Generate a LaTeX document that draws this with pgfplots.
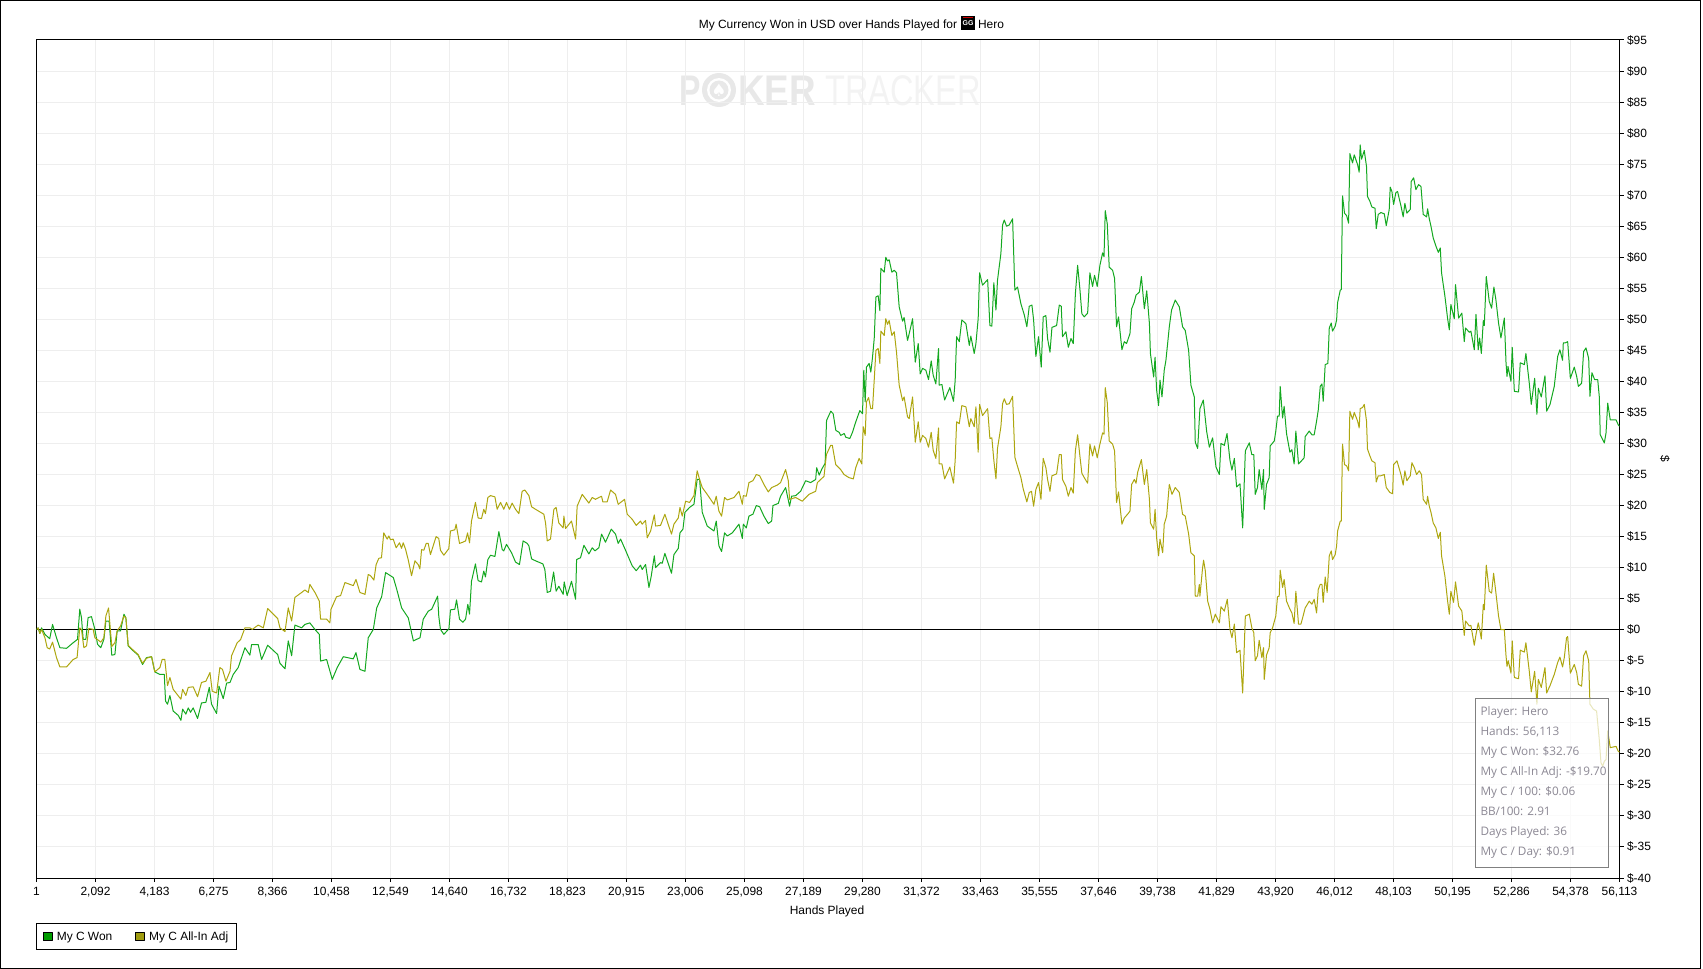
\documentclass[border=0pt]{standalone}
\usepackage{fontspec}
\usepackage{graphicx}
\usepackage{pgfplots}
\pgfplotsset{compat=1.18}
\setmainfont{Liberation Sans}
\newfontfamily\tipfont{Open Sans}
\newfontfamily\symfont{DejaVu Sans}
\definecolor{cgreen}{HTML}{14A820}
\definecolor{cyellow}{HTML}{ADA60F}
\definecolor{lgreen}{HTML}{009C00}
\definecolor{lyellow}{HTML}{A09C10}
\definecolor{cgrid}{HTML}{EEEEEE}
\definecolor{wm}{HTML}{E8E8E8}
\definecolor{wmb}{HTML}{F3F3F3}
\definecolor{tip}{HTML}{8C8894}
\pgfplotstableread{
h v
1 0
60 0.3
120 -0.6
180 0.3
300 -0.75
470 -1.45
570 0.85
710 -1.3
830 -2.9
1065 -3.0
1300 -2.1
1455 -1.55
1535 3.3
1595 1.95
1655 -1.55
1750 -1.55
1830 1.95
1950 2.1
2070 0.05
2165 -2.35
2280 -2.9
2390 -1.55
2460 1.4
2575 1.4
2670 -4.1
2780 -4.0
2860 -0.2
2980 -0.2
3100 2.5
3170 1.9
3250 -2.6
3430 -3.4
3605 -4.1
3760 -5.6
3900 -4.5
4080 -4.35
4195 -6.8
4375 -7.2
4530 -7.2
4575 -11.5
4645 -12.0
4730 -10.6
4845 -13.1
5025 -13.8
5120 -14.6
5180 -12.8
5295 -13.6
5380 -12.6
5460 -13.3
5555 -12.6
5710 -14.3
5850 -11.8
6005 -11.7
6125 -9.3
6205 -12.0
6385 -13.5
6470 -9.1
6620 -11.1
6740 -8.6
6860 -8.5
6975 -7.2
7150 -6.1
7390 -2.9
7565 -4.1
7625 -2.4
7860 -2.4
7980 -4.8
8195 -2.5
8550 -4.0
8630 -5.4
8810 -6.3
8925 -1.8
9045 -4.2
9160 0.75
9400 0.3
9515 0.85
9690 1.1
9870 0.05
10025 -0.75
10070 -5.05
10285 -4.8
10485 -8.0
10660 -6.1
10875 -4.35
11230 -4.7
11325 -3.7
11465 -6.4
11645 -6.7
11760 -1.3
11940 0.05
12060 3.5
12235 5.3
12375 9.2
12650 8.4
12770 6.5
12945 3.5
13180 1.9
13360 -1.8
13595 -1.3
13710 1.7
13890 3.0
14010 3.3
14220 5.4
14260 2.2
14320 0.05
14440 -0.75
14620 0.15
14675 3.2
14830 3.3
14890 4.8
14995 1.7
15115 1.2
15210 1.7
15290 4.1
15350 2.5
15420 7.8
15560 10.6
15655 7.9
15775 7.7
15855 9.45
15915 8.5
16000 11.3
16095 12.0
16250 11.8
16390 15.8
16510 12.9
16565 12.7
16660 13.75
16840 12.4
16980 10.9
17120 10.5
17250 14.3
17395 13.9
17455 13.5
17550 11.4
17690 11.1
17950 10.6
18020 9.7
18105 6.0
18220 6.2
18330 9.3
18420 6.2
18515 7.0
18670 5.7
18705 7.7
18810 5.5
18965 7.8
19110 4.9
19145 11.3
19285 11.6
19405 13.6
19580 12.2
19700 13.2
19795 12.7
19935 13.2
20030 15.4
20170 14.1
20375 16.2
20525 15.4
20620 13.9
20705 14.6
20880 12.8
21115 10.3
21260 9.5
21410 10.4
21470 9.7
21590 10.5
21710 6.8
21790 8.6
21900 11.9
21945 10.0
22120 10.8
22180 10.7
22275 12.3
22420 10.3
22510 9.1
22595 12.1
22750 13.1
22810 15.6
22915 16.2
22985 18.9
23150 19.7
23305 20.2
23420 24.2
23505 24.2
23600 18.9
23775 16.7
24015 15.9
24095 17.5
24190 13.5
24285 12.6
24390 15.6
24485 15.1
24665 15.6
24900 17.0
25020 14.7
25055 17.0
25160 16.4
25255 18.3
25395 18.6
25515 20.0
25635 19.8
25785 18.3
25940 17.1
26060 17.5
26105 20.0
26295 20.35
26375 21.5
26555 22.9
26695 19.9
26765 21.5
26910 21.6
27085 22.3
27265 24.0
27440 23.7
27620 24.2
27655 26.1
27745 24.9
27840 25.9
27955 26.8
28005 33.7
28155 35.2
28240 34.8
28335 32.1
28450 31.8
28510 31.3
28630 31.6
28690 31.0
28830 30.8
28925 31.8
29020 33.2
29105 34.3
29185 35.3
29280 34.8
29325 41.8
29375 36.7
29420 42.3
29515 42.9
29575 41.5
29635 43.9
29695 46.9
29755 53.6
29835 53.8
29895 51.4
29930 58.2
30050 57.6
30105 60.0
30165 59.4
30225 59.6
30320 57.6
30405 57.9
30485 57.5
30580 52.0
30700 49.7
30755 50.3
30875 46.6
30935 47.7
31055 50.1
31150 43.1
31255 46.1
31325 41.2
31410 42.1
31525 41.8
31620 40.3
31715 43.3
31785 41.0
31880 39.6
31975 45.3
32000 39.4
32095 39.5
32190 37.0
32375 39.0
32505 36.8
32565 40.2
32615 47.2
32710 46.4
32800 49.9
32945 49.3
33065 45.8
33120 47.3
33240 44.5
33300 46.1
33380 50.1
33430 57.5
33535 55.5
33715 56.4
33795 49.0
33865 48.9
33935 55.9
34010 51.5
34065 56.3
34185 60.6
34245 65.2
34305 66.0
34385 65.0
34480 65.2
34600 66.2
34680 54.7
34775 55.2
34895 52.5
35015 50.7
35105 48.8
35190 52.1
35285 52.3
35345 49.9
35425 44.0
35520 47.2
35615 42.3
35685 50.4
35780 50.6
35840 46.9
35925 44.7
35995 48.7
36160 49.0
36255 52.3
36325 52.1
36370 47.2
36490 48.0
36575 45.5
36670 46.9
36750 46.1
36825 54.1
36905 58.7
36985 54.9
37055 50.9
37140 50.4
37260 51.0
37340 57.5
37435 55.3
37505 57.1
37600 55.3
37695 58.7
37790 60.7
37840 60.1
37885 67.5
37955 65.4
38025 58.4
38145 57.9
38215 56.6
38285 48.8
38355 50.4
38475 45.1
38560 46.4
38640 46.1
38760 47.7
38820 51.7
38915 52.8
38975 53.9
39095 54.4
39165 56.9
39270 51.7
39355 54.6
39450 49.3
39485 44.5
39600 40.7
39650 43.9
39705 38.6
39775 36.1
39825 40.2
39895 37.5
39975 41.8
40035 43.4
40155 48.8
40235 51.5
40365 53.1
40510 52.0
40625 48.8
40720 48.2
40840 45.0
40920 39.4
41040 37.5
41075 30.2
41160 29.2
41240 35.6
41360 37.0
41480 31.9
41575 29.4
41690 30.9
41810 26.2
41930 25.0
41985 30.0
42105 29.7
42200 31.6
42305 27.3
42375 25.7
42460 27.6
42540 23.0
42660 23.5
42755 16.4
42850 28.8
42990 30.1
43080 28.2
43150 28.2
43200 21.8
43280 22.9
43340 25.8
43435 22.6
43495 25.8
43520 19.4
43600 23.4
43695 24.5
43730 29.6
43875 30.4
43930 32.0
43990 34.4
44050 34.4
44085 39.2
44170 34.1
44225 36.0
44310 31.6
44430 28.6
44500 29.0
44580 26.7
44640 32.0
44735 26.7
44820 27.1
44935 27.7
44970 31.1
45115 32.0
45210 31.4
45290 31.4
45375 33.6
45435 35.4
45505 39.2
45565 39.6
45610 36.8
45680 42.7
45775 42.9
45825 48.6
45895 49.4
45940 48.1
46035 48.9
46085 49.9
46120 52.7
46215 54.7
46250 54.8
46295 69.9
46365 67.1
46440 66.7
46510 65.5
46555 76.7
46650 75.2
46710 76.5
46830 74.9
46885 73.7
46920 78.1
46970 75.8
47065 77.2
47145 74.6
47180 69.8
47265 69.0
47335 68.1
47445 67.9
47490 64.6
47560 66.9
47655 67.2
47775 67.0
47845 65.1
47950 67.7
47985 71.3
48045 70.6
48105 68.5
48185 70.4
48245 70.6
48365 68.3
48445 66.5
48505 68.7
48575 67.1
48695 67.7
48730 72.2
48815 72.8
48895 70.9
48990 71.7
49075 71.4
49155 66.9
49275 66.5
49310 67.8
49370 66.2
49430 65.0
49510 63.1
49605 61.8
49690 60.8
49760 61.5
49805 57.5
49925 53.7
50020 50.1
50080 48.3
50135 52.4
50255 50.1
50300 55.6
50410 50.2
50525 51.0
50610 46.4
50655 48.6
50790 47.9
50845 48.1
50965 45.1
51025 50.8
51105 45.1
51155 47.0
51215 44.5
51285 49.8
51320 49.0
51390 56.9
51495 52.9
51580 51.8
51660 55.2
51730 53.2
51825 49.4
51910 47.0
52030 50.2
52090 43.0
52125 40.8
52160 42.4
52265 40.0
52310 45.5
52385 38.4
52535 38.3
52595 43.0
52740 42.7
52795 44.5
52915 39.7
52985 36.3
53105 40.5
53185 34.7
53235 38.9
53340 37.5
53470 40.9
53530 35.2
53650 36.3
53800 39.2
53920 44.0
54000 45.1
54095 43.4
54120 46.2
54190 46.2
54275 46.4
54370 40.5
54510 42.3
54595 40.8
54655 39.2
54770 39.7
54840 44.8
54925 45.4
55020 43.7
55065 37.6
55135 41.4
55230 40.3
55340 40.3
55395 37.6
55430 31.4
55575 30.1
55635 31.7
55695 36.5
55785 33.8
55990 33.8
56070 33.0
56113 32.76
}\wontable
\pgfplotstableread{
h v
1 0
60 0.3
120 -0.6
180 0.05
300 -1.3
380 -2.9
470 -3.1
570 -2.0
710 -4.5
830 -6.0
1065 -6.0
1300 -4.8
1440 -4.5
1535 0.3
1595 0.05
1680 -2.9
1775 -2.6
1855 0.2
2010 0.05
2070 -1.3
2165 -1.6
2280 -2.0
2390 -1.3
2460 2.2
2555 3.5
2670 -2.7
2780 -2.1
2860 -0.2
2980 0.6
3100 2.2
3170 1.9
3250 -2.5
3430 -3.3
3605 -4.0
3760 -5.4
3900 -4.6
4080 -4.35
4195 -6.8
4375 -6.1
4455 -4.8
4550 -4.8
4645 -9.0
4730 -7.7
4845 -9.6
5120 -11.2
5180 -9.6
5295 -10.6
5380 -9.3
5555 -9.2
5710 -10.8
5850 -8.5
6005 -8.3
6150 -6.9
6230 -9.9
6385 -10.2
6500 -6.1
6595 -6.4
6715 -8.3
6860 -6.7
6915 -4.2
7115 -2.1
7235 -1.6
7390 0.3
7565 0.3
7650 0.05
7860 0.75
8040 0.3
8195 3.4
8550 1.8
8630 0.3
8810 -0.3
8925 3.5
9045 1.4
9160 5.2
9400 6.0
9515 6.4
9635 6.0
9690 7.3
9870 6.0
10025 4.6
10070 1.7
10285 1.7
10400 1.1
10440 3.3
10635 5.3
10780 5.5
10935 7.6
11230 7.1
11325 8.1
11465 6.0
11645 5.7
11760 8.9
11840 8.7
11960 8.0
12040 10.5
12135 11.5
12230 11.6
12310 15.6
12430 14.6
12490 15.1
12549 14.5
12645 14.6
12750 13.2
12870 14.0
12940 13.1
13000 14.0
13080 13.0
13175 11.3
13295 8.7
13415 11.1
13530 10.5
13590 9.8
13650 12.9
13730 12.8
13815 13.9
13885 13.9
13965 12.1
14165 15.0
14260 14.7
14320 12.8
14440 12.0
14615 13.05
14675 15.9
14830 16.1
14875 17.0
14995 13.9
15115 14.1
15210 14.3
15280 15.6
15350 14.0
15420 17.5
15560 20.5
15655 18.0
15775 17.9
15855 19.4
15915 18.7
16000 21.3
16095 21.6
16250 21.4
16330 19.4
16450 20.5
16565 19.4
16660 20.5
16765 19.4
16860 20.4
16980 19.4
17100 18.7
17215 22.3
17310 22.5
17455 21.6
17550 19.8
17690 19.4
17985 18.6
18045 17.2
18105 14.3
18220 14.6
18340 19.4
18420 19.7
18515 17.2
18670 16.4
18695 18.3
18755 16.3
18965 17.5
19110 14.6
19165 19.9
19345 21.8
19580 20.4
19700 21.3
19815 21.0
19935 21.3
20030 21.5
20075 20.6
20230 20.6
20350 22.5
20525 21.8
20620 20.2
20705 20.5
20845 21.0
20940 18.6
21115 17.8
21260 16.8
21410 17.5
21470 17.0
21590 17.6
21650 14.8
21770 15.9
21900 18.5
21945 16.7
22120 16.8
22275 18.6
22420 16.6
22510 15.4
22595 17.0
22750 18.0
22810 19.7
22890 18.3
23010 20.7
23150 20.5
23305 21.6
23420 25.6
23505 24.2
23600 22.9
23775 21.8
24015 20.2
24095 21.5
24190 19.1
24285 18.3
24390 21.3
24485 20.9
24725 21.3
24900 22.3
25020 20.2
25055 21.6
25160 21.5
25255 23.7
25395 24.0
25515 25.0
25635 24.8
25785 23.4
25940 22.2
26060 22.9
26260 23.3
26375 23.7
26555 25.8
26650 24.0
26695 21.0
26910 21.3
27145 20.7
27380 21.8
27620 22.3
27680 23.7
27915 24.7
28000 28.2
28150 29.7
28210 29.7
28330 26.6
28505 25.8
28625 25.0
28800 24.5
28955 24.3
29040 26.1
29160 27.6
29255 26.7
29305 32.7
29375 31.3
29420 36.7
29495 37.4
29575 35.6
29635 35.6
29695 40.2
29755 45.0
29835 45.3
29895 42.9
29930 48.1
30050 47.4
30105 50.1
30165 49.2
30225 49.8
30320 47.4
30405 48.0
30485 44.7
30580 39.4
30700 36.9
30755 37.5
30875 34.3
30935 34.0
31055 37.5
31150 30.2
31255 33.5
31325 30.2
31410 31.3
31525 30.8
31620 29.4
31715 31.8
31785 28.9
31880 27.6
31975 32.5
32000 26.7
32095 26.7
32190 24.3
32375 26.2
32505 23.6
32565 27.3
32615 33.5
32710 33.2
32800 36.1
32945 35.9
33065 32.7
33120 34.0
33240 32.7
33300 35.9
33380 28.6
33430 36.3
33535 34.5
33715 35.6
33795 30.8
33865 30.9
33935 27.3
34010 24.3
34065 29.2
34185 32.7
34245 36.4
34305 37.2
34385 36.3
34480 36.4
34600 37.6
34680 27.8
34775 26.3
34895 24.5
34975 22.7
35105 20.6
35190 22.1
35270 22.3
35345 19.9
35425 22.6
35520 23.7
35605 21.0
35685 27.6
35780 26.1
35840 24.2
35925 22.3
35995 24.8
36160 25.1
36255 28.2
36325 28.2
36370 24.2
36490 23.1
36575 21.5
36670 22.9
36750 22.0
36825 28.8
36905 31.4
36985 28.0
37055 25.2
37140 24.5
37260 23.6
37340 29.9
37435 28.0
37505 29.6
37600 27.7
37695 29.9
37790 31.7
37840 31.5
37885 39.0
37955 36.6
38025 30.4
38145 29.9
38215 28.8
38285 20.5
38355 22.2
38475 17.0
38560 18.0
38675 18.6
38760 19.1
38820 23.4
38915 24.2
38975 23.6
39035 25.4
39165 27.4
39270 23.4
39355 25.8
39450 21.0
39485 17.2
39600 16.2
39650 19.4
39705 14.8
39775 11.9
39825 14.6
39920 12.4
39975 17.0
40060 18.3
40155 23.4
40250 21.8
40365 22.9
40510 22.1
40625 18.6
40720 18.3
40840 15.4
40920 12.4
41040 11.9
41075 5.4
41160 5.4
41220 7.3
41240 5.4
41335 10.0
41370 11.2
41430 9.5
41515 4.6
41595 3.3
41690 1.1
41785 2.5
41930 1.1
41985 3.7
42105 3.0
42210 4.9
42305 0.05
42375 -1.3
42460 0.9
42540 -3.7
42660 -3.3
42755 -10.2
42850 2.2
42990 2.5
43080 0.3
43150 -0.5
43200 -5.0
43280 -4.2
43340 -1.7
43435 -4.5
43495 -2.9
43520 -8.0
43600 -4.1
43695 -2.9
43730 -0.5
43815 0.3
43930 2.2
43990 5.3
44050 5.4
44085 9.6
44170 6.8
44225 8.1
44310 4.6
44430 3.3
44500 2.7
44580 1.0
44640 6.2
44735 0.9
44820 0.9
44880 1.9
44970 3.5
45115 4.6
45210 4.1
45290 4.9
45375 2.7
45435 6.5
45505 7.3
45565 7.3
45610 4.4
45680 8.5
45750 6.0
45825 11.9
45895 12.7
45940 11.3
46035 12.1
46085 13.5
46120 15.9
46215 17.5
46250 17.5
46295 29.9
46365 26.6
46440 26.4
46510 25.6
46555 35.2
46650 33.9
46710 35.0
46830 33.6
46885 32.5
46920 35.6
47005 35.8
47065 36.3
47145 33.6
47180 29.1
47265 28.0
47335 27.2
47445 26.9
47490 23.8
47560 24.8
47655 24.8
47775 25.0
47845 22.9
47975 22.1
48070 21.9
48105 26.6
48225 27.2
48365 25.0
48445 23.3
48505 25.6
48575 24.0
48695 24.8
48755 26.9
48840 26.1
48920 25.0
49015 25.6
49095 25.0
49155 21.0
49275 20.2
49310 21.5
49370 19.9
49430 18.9
49510 17.2
49605 16.4
49690 14.7
49760 15.7
49805 11.9
49925 8.6
50020 4.6
50080 2.5
50135 6.2
50230 4.4
50300 7.7
50410 3.8
50525 3.0
50610 -0.9
50655 1.4
50790 0.6
50845 0.7
50965 -2.5
51025 -0.8
51105 1.1
51155 0.05
51215 -1.5
51285 4.1
51320 3.2
51390 10.4
51495 6.2
51580 5.9
51650 9.1
51730 6.0
51825 2.2
51910 0
52030 0
52090 -4.2
52125 -5.9
52170 -5.0
52265 -7.0
52310 -1.8
52385 -7.7
52535 -7.9
52595 -3.3
52740 -3.6
52795 -2.1
52915 -6.7
52985 -10.0
53105 -6.7
53185 -12.0
53235 -8.0
53340 -9.3
53470 -6.1
53530 -10.2
53650 -9.0
53800 -7.2
53920 -5.3
54000 -4.4
54095 -6.0
54155 -4.5
54235 -1.3
54275 -1.1
54370 -7.0
54510 -5.6
54595 -6.9
54655 -8.8
54770 -9.1
54840 -4.2
54925 -3.4
55020 -5.0
55065 -12.0
55185 -12.8
55300 -13.1
55395 -17.7
55455 -21.4
55515 -22.0
55575 -21.2
55635 -20.9
55695 -16.3
55785 -19.0
55990 -18.8
56070 -19.6
56113 -19.70
}\adjtable
\begin{document}
\begin{tikzpicture}
\useasboundingbox (0,0) rectangle (1703bp,969bp);
\draw[black,line width=1bp] (0.5bp,0.5bp) rectangle (1700.5bp,968.5bp);
% watermark
\begin{scope}[x=1bp,y=1bp]
\node[anchor=base west,inner sep=0,text=wm] at (679,863) {\scalebox{0.75}[1]{\fontsize{43}{43}\selectfont\bfseries P}};
\fill[wm] (719,879) circle (17);
\fill[white] (719,879) circle (12);
\fill[wm] (719,879) circle (9.5);
\node[text=white,inner sep=0] at (719,879) {\fontsize{17}{17}\symfont ♠};
\node[anchor=base west,inner sep=0,text=wm] at (738,863) {\scalebox{0.86}[1]{\fontsize{43}{43}\selectfont\bfseries KER}};
\node[anchor=base west,inner sep=0,text=wmb] at (825,863) {\scalebox{0.76}[1]{\fontsize{43}{43}\selectfont TRACKER}};
\end{scope}
\begin{axis}[
  at={(36.5bp,91bp)},anchor=south west,
  scale only axis,width=1583bp,height=838bp,
  xmin=1,xmax=56113,ymin=-40,ymax=95,
  scaled x ticks=false,
  axis line style={black,line width=1bp},
  grid=major,major grid style={cgrid,line width=1bp},
  tick align=outside,major tick length=4bp,
  tick style={black,line width=1bp},
  xtick pos=bottom,ytick pos=right,yticklabel pos=right,
  xtick={1,2092,4183,6275,8366,10458,12549,14640,16732,18823,20915,23006,25098,27189,29280,31372,33463,35555,37646,39738,41829,43920,46012,48103,50195,52286,54378,56113},
  xticklabels={1,{2,092},{4,183},{6,275},{8,366},{10,458},{12,549},{14,640},{16,732},{18,823},{20,915},{23,006},{25,098},{27,189},{29,280},{31,372},{33,463},{35,555},{37,646},{39,738},{41,829},{43,920},{46,012},{48,103},{50,195},{52,286},{54,378},{56,113}},
  ytick={-40,-35,-30,-25,-20,-15,-10,-5,0,5,10,15,20,25,30,35,40,45,50,55,60,65,70,75,80,85,90,95},
  yticklabels={\$-40,\$-35,\$-30,\$-25,\$-20,\$-15,\$-10,\$-5,\$0,\$5,\$10,\$15,\$20,\$25,\$30,\$35,\$40,\$45,\$50,\$55,\$60,\$65,\$70,\$75,\$80,\$85,\$90,\$95},
  ticklabel style={font=\fontsize{12}{13}\selectfont},
  yticklabel style={anchor=west,xshift=0bp},
  xticklabel style={anchor=north,yshift=-1.5bp},
  title={My Currency Won in USD over Hands Played for\hspace{21bp}Hero},
  title style={at={(axis description cs:0.5148,1.0108)},anchor=center,font=\fontsize{12}{13}\selectfont,inner sep=0},
  xlabel={Hands Played},
  xlabel style={at={(axis description cs:0.4994,-0.0395)},anchor=center,font=\fontsize{12}{13}\selectfont,inner sep=0},
  ylabel={\$},
  ylabel style={at={(axis description cs:1.0287,0.5)},anchor=center,rotate=180,font=\fontsize{12}{13}\selectfont,inner sep=0},
  legend columns=2,
  legend cell align=left,
  legend style={at={(axis description cs:0,-0.0863)},anchor=south west,draw=black,line width=1bp,fill=white,
    font=\fontsize{12}{13}\selectfont,inner xsep=6bp,inner ysep=6bp,
    /tikz/every odd column/.append style={column sep=2.5bp},
    /tikz/every even column/.append style={column sep=21bp}},
]
\addplot[black,line width=1bp,forget plot] coordinates {(1,0) (56113,0)};
\addplot[cgreen,line width=1bp,line join=round,legend image code/.code={\draw[black,line width=0.8bp,fill=lgreen] (0bp,-4bp) rectangle (8.5bp,4bp);}] table[x=h,y=v] {\wontable};
\addlegendentry{My C Won}
\addplot[cyellow,line width=1bp,line join=round,legend image code/.code={\draw[black,line width=0.8bp,fill=lyellow] (0bp,-4bp) rectangle (8.5bp,4bp);}] table[x=h,y=v] {\adjtable};
\addlegendentry{My C All-In Adj}
\end{axis}
\begin{scope}[x=1bp,y=1bp]
% GG logo
\fill[black] (961,939) rectangle (975,953);
\fill[red!80!black] (963,950.5) rectangle (973,951.5);
\node[text=white,inner sep=0] at (968,945.5) {\fontsize{7}{7}\selectfont\bfseries GG};
% tooltip
\fill[white,fill opacity=0.72] (1475.7,101.7) rectangle (1608.3,270.7);
\draw[gray,line width=1bp] (1475.7,101.7) rectangle (1608.3,270.7);
\foreach \yy/\tt in {254/{Player: Hero},234/{Hands: 56,113},214/{My C Won: \$32.76},194/{My C All-In Adj: -\$19.70},174/{My C / 100: \$0.06},154/{BB/100: 2.91},134/{Days Played: 36},114/{My C / Day: \$0.91}}{
  \node[anchor=base west,inner sep=0,text=tip] at (1480.3,\yy) {\fontsize{11.8}{13}\tipfont \tt};
}
\end{scope}
\end{tikzpicture}
\end{document}
